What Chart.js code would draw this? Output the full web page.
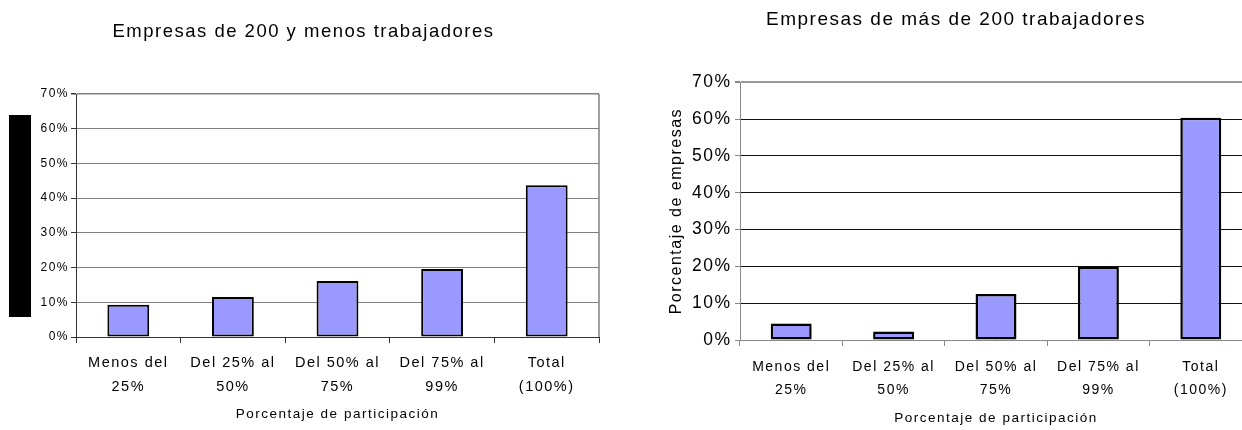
<!DOCTYPE html>
<html>
<head>
<meta charset="utf-8">
<script src="https://cdn.jsdelivr.net/npm/chart.js@4.4.1/dist/chart.umd.min.js"></script>
<style>
  html, body { margin: 0; padding: 0; background: #fff; width: 1242px; height: 430px; overflow: hidden; }
  #wrapL { position: absolute; left: 0; top: 0; width: 620px; height: 430px; }
  #wrapR { position: absolute; left: 620px; top: 0; width: 640px; height: 430px; }
  #redact { position: absolute; left: 9px; top: 115px; width: 22px; height: 202px; background: #000; }
</style>
</head>
<body>
<div id="wrapL"><canvas id="chartL"></canvas></div>
<div id="wrapR"><canvas id="chartR"></canvas></div>
<div id="redact"></div>
<script>
const categories = [
  ['Menos del', '25%'],
  ['Del 25% al', '50%'],
  ['Del 50% al', '75%'],
  ['Del 75% al', '99%'],
  ['Total', '(100%)']
];
const smallFirms = [9.3, 11.5, 16.1, 19.6, 43.7];
const largeFirms = [4.5, 2.3, 12.5, 19.9, 60.4];
const yTickValues = [0, 10, 20, 30, 40, 50, 60, 70];
const yTickLabels = ['0%', '10%', '20%', '30%', '40%', '50%', '60%', '70%'];
const titleSmall = 'Empresas de 200 y menos trabajadores';
const titleLarge = 'Empresas de más de 200 trabajadores';
const xTitle = 'Porcentaje de participación';
const yTitle = 'Porcentaje de empresas';

const FONT = "'Liberation Sans', Arial, sans-serif";
const BAR_FILL = '#9999FF';

const spacingPlugin = {
  id: 'spacing',
  beforeUpdate(chart, args, opts) { chart.ctx.letterSpacing = opts.value; },
  beforeLayout(chart, args, opts) { chart.ctx.letterSpacing = opts.value; },
  beforeDraw(chart, args, opts) { chart.ctx.letterSpacing = opts.value; }
};

const framePlugin = {
  id: 'frame',
  afterDatasetsDraw(chart, args, opts) {
    if (!opts || !opts.right) return;
    const a = chart.chartArea, ctx = chart.ctx;
    ctx.save();
    ctx.strokeStyle = opts.color;
    ctx.lineWidth = opts.width || 1;
    ctx.beginPath();
    ctx.moveTo(a.right, a.top);
    ctx.lineTo(a.right, a.bottom);
    ctx.stroke();
    ctx.restore();
  }
};

function makeChart(id, values, cfg) {
  return new Chart(document.getElementById(id), {
    type: 'bar',
    data: {
      labels: categories,
      datasets: [{
        data: values,
        backgroundColor: BAR_FILL,
        borderColor: '#000',
        borderWidth: cfg.barBorder,
        borderSkipped: false,
        barPercentage: 0.4,
        categoryPercentage: 1.0
      }]
    },
    plugins: [spacingPlugin, framePlugin],
    options: {
      responsive: true,
      maintainAspectRatio: false,
      animation: false,
      events: [],
      layout: { padding: cfg.layoutPadding },
      plugins: {
        legend: { display: false },
        tooltip: { enabled: false },
        spacing: { value: cfg.letterSpacing },
        title: {
          display: true,
          text: cfg.title,
          color: '#000',
          font: { family: FONT, size: cfg.titleSize, weight: 'normal', lineHeight: 1.2 },
          padding: cfg.titlePadding
        },
        frame: cfg.frame
      },
      scales: {
        x: {
          offset: true,
          grid: { display: true, drawOnChartArea: false, drawTicks: true, tickLength: 6, color: cfg.axisColor, offset: true },
          border: { display: true, color: cfg.axisColor, width: 1 },
          ticks: {
            color: '#000',
            padding: cfg.xTickPadding,
            maxRotation: 0,
            autoSkip: false,
            font: { family: FONT, size: cfg.xTickSize, lineHeight: cfg.xLineHeight }
          },
          title: {
            display: true,
            text: xTitle,
            color: '#000',
            font: { family: FONT, size: 13.5, lineHeight: 1.2 },
            padding: { top: 0, bottom: cfg.xTitleBottom }
          },
          afterFit(scale) { scale.height = cfg.xHeight; }
        },
        y: {
          min: 0,
          max: 70,
          afterBuildTicks(scale) { scale.ticks = yTickValues.map(v => ({ value: v })); },
          grid: {
            color: ctx => (ctx.tick && ctx.tick.value === 70) ? cfg.topColor : cfg.gridColor,
            lineWidth: ctx => (ctx.tick && ctx.tick.value === 70) ? cfg.topWidth : 1,
            tickColor: cfg.axisColor,
            tickLength: 5,
            drawTicks: true
          },
          border: { display: true, color: cfg.axisColor, width: 1 },
          ticks: {
            color: '#000',
            padding: cfg.yTickPadding,
            font: { family: FONT, size: cfg.yTickSize },
            callback: (v) => yTickLabels[yTickValues.indexOf(v)]
          },
          title: {
            display: cfg.showYTitle,
            text: yTitle,
            color: '#000',
            font: { family: FONT, size: 16, lineHeight: 1.2 },
            padding: { top: cfg.yTitleTop, bottom: 0 }
          },
          afterFit(scale) { scale.width = cfg.yWidth; }
        }
      }
    }
  });
}

makeChart('chartL', smallFirms, {
  title: titleSmall,
  titleSize: 18.5,
  letterSpacing: '1.5px',
  barBorder: 2,
  layoutPadding: { left: 8, right: 21, top: 0, bottom: 0 },
  titlePadding: { top: 20.9, bottom: 50.9 },
  xHeight: 93,
  yWidth: 68,
  xTickSize: 14.5,
  xTickPadding: 8,
  xLineHeight: 1.655,
  xTitleBottom: 7.9,
  yTickSize: 12,
  yTickPadding: 2,
  gridColor: '#808080',
  topColor: '#808080',
  topWidth: 1.5,
  axisColor: '#333',
  showYTitle: false,
  yTitleTop: 0,
  frame: { right: true, color: '#808080', width: 1.5 }
});

makeChart('chartR', largeFirms, {
  title: titleLarge,
  titleSize: 19,
  letterSpacing: '1.5px',
  barBorder: 2.5,
  layoutPadding: { left: 40, right: 8, top: 0, bottom: 0 },
  titlePadding: { top: 8.6, bottom: 50.9 },
  xHeight: 90,
  yWidth: 80,
  xTickSize: 14,
  xTickPadding: 9.25,
  xLineHeight: 1.68,
  xTitleBottom: 3.9,
  yTickSize: 17.5,
  yTickPadding: 3.5,
  gridColor: '#111',
  topColor: '#999',
  topWidth: 2,
  axisColor: '#888',
  showYTitle: true,
  yTitleTop: 7.4,
  frame: { right: false }
});
</script>
</body>
</html>
